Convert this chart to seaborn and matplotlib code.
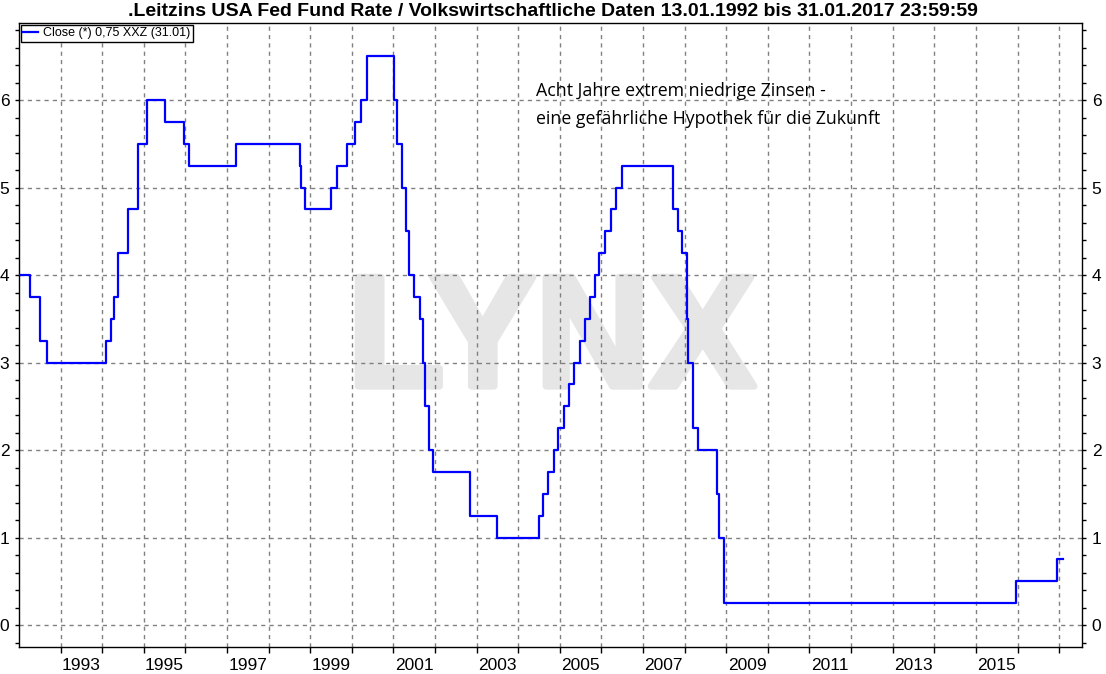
import numpy as np
import pandas as pd
import matplotlib
matplotlib.use("Agg")
import matplotlib.pyplot as plt
import matplotlib.patheffects as pe
import seaborn as sns
from matplotlib.ticker import MultipleLocator

# ---- data: Fed funds target rate changes (date, rate after change) ----
change_dates = [
    "1992-01-13", "1992-04-09", "1992-07-02", "1992-09-04",
    "1994-02-04", "1994-03-22", "1994-04-18", "1994-05-17", "1994-08-16", "1994-11-15",
    "1995-02-01", "1995-07-06", "1995-12-19", "1996-01-31",
    "1997-03-25", "1998-09-29", "1998-10-15", "1998-11-17",
    "1999-06-30", "1999-08-24", "1999-11-16",
    "2000-02-02", "2000-03-21", "2000-05-16",
    "2001-01-03", "2001-01-31", "2001-03-20", "2001-04-18", "2001-05-15", "2001-06-27",
    "2001-08-21", "2001-09-17", "2001-10-02", "2001-11-06", "2001-12-11",
    "2002-11-06", "2003-06-25",
    "2004-06-30", "2004-08-10", "2004-09-21", "2004-11-10", "2004-12-14",
    "2005-02-02", "2005-03-22", "2005-05-03", "2005-06-30", "2005-08-09", "2005-09-20",
    "2005-11-01", "2005-12-13",
    "2006-01-31", "2006-03-28", "2006-05-10", "2006-06-29",
    "2007-09-18", "2007-10-31", "2007-12-11",
    "2008-01-22", "2008-01-30", "2008-03-18", "2008-04-30", "2008-10-08", "2008-10-29",
    "2008-12-16", "2015-12-16", "2016-12-14", "2017-01-31",
]
rates = [
    4.00, 3.75, 3.25, 3.00,
    3.25, 3.50, 3.75, 4.25, 4.75, 5.50,
    6.00, 5.75, 5.50, 5.25,
    5.50, 5.25, 5.00, 4.75,
    5.00, 5.25, 5.50,
    5.75, 6.00, 6.50,
    6.00, 5.50, 5.00, 4.50, 4.00, 3.75,
    3.50, 3.00, 2.50, 2.00, 1.75,
    1.25, 1.00,
    1.25, 1.50, 1.75, 2.00, 2.25,
    2.50, 2.75, 3.00, 3.25, 3.50, 3.75,
    4.00, 4.25,
    4.50, 4.75, 5.00, 5.25,
    4.75, 4.50, 4.25,
    3.50, 3.00, 2.25, 2.00, 1.50, 1.00,
    0.25, 0.50, 0.75, 0.75,
]
series_label = "Close (*) 0,75 XXZ (31.01)"
title = ".Leitzins USA Fed Fund Rate / Volkswirtschaftliche Daten 13.01.1992 bis 31.01.2017 23:59:59"
note_lines = ["Acht Jahre extrem niedrige Zinsen -", "eine gefährliche Hypothek für die Zukunft"]
year_ticks = list(range(1993, 2018))
year_labels = [str(y) for y in range(1993, 2016, 2)]
y_ticks = [0, 1, 2, 3, 4, 5, 6]

# ---- build frame ----
d = pd.to_datetime(change_dates)
frac = d.year + (d.dayofyear - 1) / np.where(d.is_leap_year, 366.0, 365.0)
df = pd.DataFrame({"t": frac, "rate": rates})

plt.rcParams["font.family"] = ["Liberation Sans", "DejaVu Sans"]

W, H = 1106, 674
fig = plt.figure(figsize=(W / 100, H / 100), dpi=100)
ax = fig.add_axes([19 / W, 1 - 647 / H, (1082 - 19) / W, (647 - 23) / H])

# watermark
wm = ax.text(0.501, 0.418, "LYNX", transform=ax.transAxes, ha="center", va="baseline",
             fontsize=114, fontweight="bold", color="#E6E6E6", zorder=0,
             family=["Liberation Sans", "DejaVu Sans"])
wm.set_path_effects([pe.withStroke(linewidth=5, foreground="#E6E6E6")])

sns.lineplot(data=df, x="t", y="rate", ax=ax, drawstyle="steps-post", color="#0000FF",
             linewidth=1.6, estimator=None, sort=False, label=series_label, zorder=3)

ax.set_xlim(1992.0, 2017.55)
ax.set_ylim(-0.25, 6.88)
ax.set_xlabel("")
ax.set_ylabel("")

ax.set_xticks(year_ticks)
ax.set_xticklabels([])
ax.set_xticks([int(y) + 0.5 for y in year_labels], minor=True)
ax.set_xticklabels(year_labels, minor=True)
ax.tick_params(axis="x", which="major", length=4, width=1, direction="out", color="black")
ax.tick_params(axis="x", which="minor", length=0, pad=8, labelsize=12.5)

ax.set_yticks(y_ticks)
ax.set_yticklabels([str(v) for v in y_ticks])
ax.yaxis.set_minor_locator(MultipleLocator(0.2))
ax.tick_params(axis="y", which="both", left=True, right=True, labelleft=True, labelright=True,
               direction="out", length=3, width=1, pad=4, labelsize=12.5, color="black")

ax.grid(True, which="major", linestyle=(0, (3, 3)), color="#808080", linewidth=1, zorder=1)
ax.set_axisbelow(True)
for s in ax.spines.values():
    s.set_color("black")
    s.set_linewidth(1)

leg = ax.legend(loc="upper left", bbox_to_anchor=(0.0, 1.0), borderaxespad=0.15, frameon=True,
                fancybox=False, edgecolor="black", framealpha=1, fontsize=9, handlelength=1.2,
                handletextpad=0.4, borderpad=0.2)
leg.get_frame().set_linewidth(1)

fig.text(0.5, 1 - 11 / H, title, ha="center", va="center", fontsize=14, fontweight="bold")
fig.text(536 / W, 1 - 91 / H, note_lines[0], ha="left", va="center", fontsize=12.8,
         family=["Open Sans", "DejaVu Sans"])
fig.text(536 / W, 1 - 119 / H, note_lines[1], ha="left", va="center", fontsize=12.8,
         family=["Open Sans", "DejaVu Sans"])

fig.savefig("out.png", dpi=100, facecolor="white")
